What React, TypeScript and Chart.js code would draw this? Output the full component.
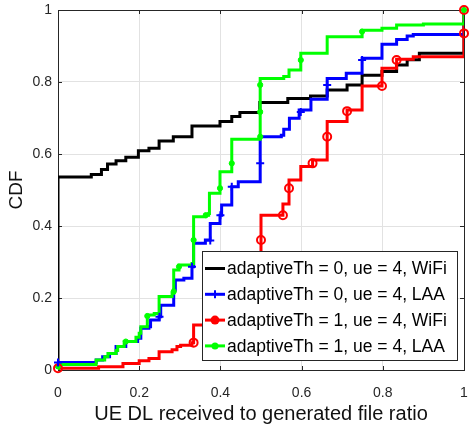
import React, { useEffect, useRef } from "react";
import { Chart, registerables } from "chart.js";

Chart.register(...registerables);

const xTicks = [0, 0.2, 0.4, 0.6, 0.8, 1];
const yTicks = [0, 0.2, 0.4, 0.6, 0.8, 1];

const seriesLabels = [
  "adaptiveTh = 0, ue = 4, WiFi",
  "adaptiveTh = 0, ue = 4, LAA",
  "adaptiveTh = 1, ue = 4, WiFi",
  "adaptiveTh = 1, ue = 4, LAA",
];
const seriesColors = ["#000000", "#0000ff", "#ff0000", "#00ff00"];

// step CDF points: at x the curve jumps up to y
const wifiTh0 = [
  [0, 0], [0, 0.536], [0.082, 0.543], [0.107, 0.557], [0.122, 0.572], [0.143, 0.581],
  [0.167, 0.591], [0.198, 0.609], [0.224, 0.616], [0.249, 0.636], [0.284, 0.648],
  [0.33, 0.678], [0.399, 0.69], [0.428, 0.704], [0.448, 0.715], [0.497, 0.743],
  [0.566, 0.754], [0.622, 0.761], [0.663, 0.778], [0.712, 0.792], [0.749, 0.819],
  [0.798, 0.829], [0.834, 0.847], [0.86, 0.862], [0.89, 0.88], [1, 0.882], [1, 1],
];
const laaTh0 = [
  [0, 0], [0, 0.021], [0.094, 0.028], [0.11, 0.037], [0.127, 0.046], [0.143, 0.065],
  [0.167, 0.079], [0.196, 0.088], [0.204, 0.116], [0.224, 0.12], [0.228, 0.139],
  [0.249, 0.148], [0.253, 0.18], [0.285, 0.222], [0.289, 0.25], [0.31, 0.255],
  [0.33, 0.287], [0.334, 0.352], [0.363, 0.361], [0.375, 0.407], [0.399, 0.43],
  [0.403, 0.458], [0.428, 0.509], [0.444, 0.523], [0.498, 0.648], [0.55, 0.652],
  [0.556, 0.669], [0.57, 0.699], [0.594, 0.722], [0.623, 0.752], [0.663, 0.81],
  [0.71, 0.824], [0.749, 0.866], [0.798, 0.905], [0.834, 0.918], [0.86, 0.928],
  [0.875, 0.932], [1, 0.933], [1, 1],
];
const wifiTh1 = [
  [0, 0], [0, 0.005], [0.1, 0.009], [0.16, 0.018], [0.2, 0.026], [0.224, 0.032],
  [0.249, 0.051], [0.281, 0.056], [0.293, 0.065], [0.302, 0.069], [0.33, 0.076],
  [0.334, 0.125], [0.363, 0.13], [0.5, 0.43], [0.554, 0.461], [0.569, 0.528],
  [0.598, 0.565], [0.627, 0.583], [0.663, 0.69], [0.712, 0.722], [0.749, 0.789],
  [0.798, 0.838], [0.834, 0.863], [0.875, 0.87], [1, 0.87], [1, 1],
];
const laaTh1 = [
  [0, 0], [0, 0.015], [0.094, 0.028], [0.115, 0.037], [0.123, 0.046], [0.143, 0.054],
  [0.147, 0.065], [0.163, 0.079], [0.192, 0.091], [0.2, 0.102], [0.204, 0.12],
  [0.22, 0.153], [0.237, 0.157], [0.249, 0.204], [0.281, 0.213], [0.285, 0.278],
  [0.298, 0.292], [0.33, 0.296], [0.334, 0.426], [0.363, 0.43], [0.371, 0.435],
  [0.373, 0.491], [0.399, 0.551], [0.428, 0.641], [0.498, 0.81], [0.556, 0.815],
  [0.569, 0.833], [0.598, 0.88], [0.663, 0.926], [0.749, 0.944], [0.798, 0.949],
  [0.834, 0.958], [0.9, 0.961], [1, 0.962], [1, 1],
];

// marker positions (MATLAB marker indices)
const laaTh0Markers = [
  [0, 0.021], [0.25, 0.148], [0.33, 0.287], [0.375, 0.36], [0.4, 0.43], [0.428, 0.509],
  [0.498, 0.574], [0.598, 0.717], [0.663, 0.792], [0.749, 0.861],
];
const wifiTh1Markers = [
  [0, 0.005], [0.334, 0.076], [0.5, 0.361], [0.554, 0.43], [0.569, 0.505], [0.627, 0.574],
  [0.663, 0.648], [0.712, 0.719], [0.798, 0.789], [0.834, 0.861], [1, 0.935], [1, 1],
];
const laaTh1Markers = [
  [0, 0.01], [0.167, 0.079], [0.22, 0.15], [0.285, 0.218], [0.298, 0.287], [0.334, 0.361],
  [0.364, 0.43], [0.399, 0.505], [0.428, 0.574], [0.498, 0.648], [0.498, 0.717],
  [0.498, 0.792], [0.598, 0.861], [0.749, 0.94], [1, 1],
];

const lineSeries = [wifiTh0, laaTh0, wifiTh1, laaTh1];
const markerSeries = [null, laaTh0Markers, wifiTh1Markers, laaTh1Markers];
const markerStyles = [
  null,
  { pointStyle: "cross", radius: 4, bg: "#0000ff", bw: 2 },
  { pointStyle: "circle", radius: 4, bg: "rgba(0,0,0,0)", bw: 2 },
  { pointStyle: "circle", radius: 2.6, bg: "#00ff00", bw: 1 },
];

const AXIS = "#262626";
const FONT = '"Liberation Sans", Arial, sans-serif';

const toPts = (a: number[][]) => a.map(([x, y]) => ({ x, y }));

const boxPlugin = {
  id: "matlabBox",
  beforeDatasetsDraw(chart: any) {
    const { ctx, chartArea: a, scales } = chart;
    ctx.save();
    ctx.strokeStyle = AXIS;
    ctx.lineWidth = 1;
    ctx.beginPath();
    const tl = 4;
    xTicks.forEach((v) => {
      const px = Math.round(scales.x.getPixelForValue(v)) + 0.5;
      ctx.moveTo(px, a.bottom);
      ctx.lineTo(px, a.bottom - tl);
      ctx.moveTo(px, a.top);
      ctx.lineTo(px, a.top + tl);
    });
    yTicks.forEach((v) => {
      const py = Math.round(scales.y.getPixelForValue(v)) + 0.5;
      ctx.moveTo(a.left, py);
      ctx.lineTo(a.left + tl, py);
      ctx.moveTo(a.right, py);
      ctx.lineTo(a.right - tl, py);
    });
    ctx.stroke();
    ctx.strokeRect(Math.round(a.left) + 0.5, Math.round(a.top) + 0.5, Math.round(a.right - a.left), Math.round(a.bottom - a.top));
    ctx.restore();
  },
};

const legendPlugin = {
  id: "matlabLegend",
  afterDraw(chart: any) {
    const { ctx, chartArea: a } = chart;
    const w = 255;
    const h = 109;
    const right = a.right - 7;
    const bottom = a.bottom - 10;
    const left = right - w;
    const top = bottom - h;
    ctx.save();
    ctx.fillStyle = "#ffffff";
    ctx.fillRect(left, top, w, h);
    ctx.strokeStyle = AXIS;
    ctx.lineWidth = 1;
    ctx.strokeRect(Math.round(left) + 0.5, Math.round(top) + 0.5, w, h);
    ctx.font = `17.5px ${FONT}`;
    ctx.textBaseline = "middle";
    ctx.textAlign = "left";
    seriesLabels.forEach((lab, i) => {
      const cy = top + 17.5 + i * 25.8;
      const x0 = left + 3;
      const x1 = left + 23;
      ctx.strokeStyle = seriesColors[i];
      ctx.lineWidth = 3;
      ctx.beginPath();
      ctx.moveTo(x0, cy);
      ctx.lineTo(x1, cy);
      ctx.stroke();
      const cx = (x0 + x1) / 2;
      ctx.fillStyle = seriesColors[i];
      if (i === 1) {
        ctx.lineWidth = 2;
        ctx.beginPath();
        ctx.moveTo(cx, cy - 4);
        ctx.lineTo(cx, cy + 4);
        ctx.stroke();
      } else if (i === 2) {
        ctx.beginPath();
        ctx.arc(cx, cy, 4.5, 0, Math.PI * 2);
        ctx.fill();
      } else if (i === 3) {
        ctx.beginPath();
        ctx.arc(cx, cy, 3.5, 0, Math.PI * 2);
        ctx.fill();
      }
      ctx.fillStyle = "#000000";
      ctx.fillText(lab, left + 25, cy + 1);
    });
    ctx.restore();
  },
};

export default function App() {
  const ref = useRef<HTMLCanvasElement | null>(null);
  useEffect(() => {
    if (!ref.current) return;
    const datasets: any[] = [];
    lineSeries.forEach((d, i) => {
      datasets.push({
        type: "line",
        label: seriesLabels[i],
        data: toPts(d),
        borderColor: seriesColors[i],
        backgroundColor: seriesColors[i],
        borderWidth: 3,
        pointRadius: 0,
        stepped: "before",
        fill: false,
        order: 10 - i,
        borderJoinStyle: "miter",
      });
    });
    markerSeries.forEach((m, i) => {
      if (!m) return;
      const s: any = markerStyles[i];
      datasets.push({
        type: "line",
        label: "",
        data: toPts(m),
        showLine: false,
        borderColor: seriesColors[i],
        backgroundColor: s.bg,
        pointStyle: s.pointStyle,
        pointRadius: s.radius,
        pointBorderWidth: s.bw,
        pointBorderColor: seriesColors[i],
        pointBackgroundColor: s.bg,
        clip: false,
        order: 0,
      });
    });
    const zeroPad = (s: any) => {
      s.paddingLeft = 0;
      s.paddingRight = 0;
      s.paddingTop = 0;
      s.paddingBottom = 0;
    };
    const chart = new Chart(ref.current, {
      type: "line",
      data: { datasets },
      plugins: [boxPlugin, legendPlugin],
      options: {
        animation: false,
        responsive: false,
        devicePixelRatio: 1,
        layout: { padding: { top: 10, right: 3, left: 0, bottom: 0 } },
        plugins: { legend: { display: false }, tooltip: { enabled: false } },
        scales: {
          x: {
            type: "linear",
            min: 0,
            max: 1,
            afterBuildTicks: (s: any) => {
              s.ticks = xTicks.map((v) => ({ value: v }));
            },
            afterFit: (s: any) => {
              s.height = 62;
              zeroPad(s);
            },
            ticks: {
              autoSkip: false,
              maxRotation: 0,
              padding: 15,
              color: AXIS,
              font: { family: FONT, size: 14 },
              callback: (v: any) => String(Number(Number(v).toFixed(1))),
            },
            grid: { color: "#e2e2e2", drawTicks: false, lineWidth: 1 },
            border: { display: false },
            title: {
              display: true,
              text: "UE DL received to generated file ratio",
              color: "#111111",
              font: { family: FONT, size: 20 },
              padding: { top: 0, bottom: 6 },
            },
          },
          y: {
            type: "linear",
            min: 0,
            max: 1,
            afterBuildTicks: (s: any) => {
              s.ticks = yTicks.map((v) => ({ value: v }));
            },
            afterFit: (s: any) => {
              s.width = 58;
              zeroPad(s);
            },
            ticks: {
              autoSkip: false,
              padding: 6,
              color: AXIS,
              font: { family: FONT, size: 14 },
              callback: (v: any) => String(Number(Number(v).toFixed(1))),
            },
            grid: { color: "#e2e2e2", drawTicks: false, lineWidth: 1 },
            border: { display: false },
            title: {
              display: true,
              text: "CDF",
              color: "#111111",
              font: { family: FONT, size: 19 },
              padding: { top: 5, bottom: 0 },
            },
          },
        },
      },
    } as any);
    return () => chart.destroy();
  }, []);
  return (
    <div style={{ position: "fixed", left: 0, top: 0, width: 470, height: 432, background: "#fff" }}>
      <canvas ref={ref} width={470} height={432} style={{ display: "block" }} />
    </div>
  );
}
